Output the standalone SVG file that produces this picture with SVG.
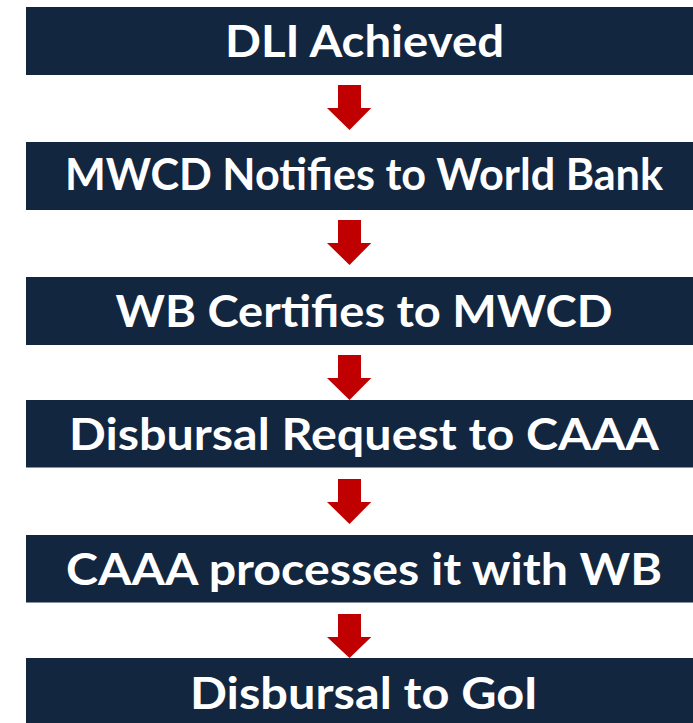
<svg xmlns="http://www.w3.org/2000/svg" width="693" height="723" viewBox="0 0 693 723">
<style>
.box{fill:#13263F}
.lbl{font-family:Lato,"Liberation Sans",sans-serif;font-weight:bold;font-size:43px;fill:#FFFFFF;text-anchor:middle}
.arr{fill:#C00000}
</style>
<rect width="693" height="723" fill="#FFFFFF"/>
<g id="connectors">
<path class="arr" d="M338,85 H361 V108 H371.3 L349.5,130 L327,108 H338 Z"/>
<path class="arr" d="M338,220 H361 V243 H371.3 L349.5,265 L327,243 H338 Z"/>
<path class="arr" d="M338,355 H361 V378 H371.3 L349.5,400 L327,378 H338 Z"/>
<path class="arr" d="M338,479 H361 V502 H371.3 L349.5,524 L327,502 H338 Z"/>
<path class="arr" d="M338,614 H361 V637 H371.3 L349.5,658 L327,637 H338 Z"/>
</g>
<g id="n1"><rect class="box" x="26" y="7" width="667" height="68"/><text class="lbl" x="364.5" y="56.7" textLength="279" lengthAdjust="spacingAndGlyphs">DLI Achieved</text></g>
<g id="n2"><rect class="box" x="26" y="142" width="667" height="68"/><text class="lbl" x="364" y="190" textLength="598" lengthAdjust="spacingAndGlyphs">MWCD Notifies to World Bank</text></g>
<g id="n3"><rect class="box" x="26" y="277" width="667" height="68"/><text class="lbl" x="364" y="327" textLength="497" lengthAdjust="spacingAndGlyphs">WB Certifies to MWCD</text></g>
<g id="n4"><rect class="box" x="26" y="400" width="667" height="67.5"/><text class="lbl" x="364" y="450" textLength="590" lengthAdjust="spacingAndGlyphs">Disbursal Request to CAAA</text></g>
<g id="n5"><rect class="box" x="26" y="535" width="667" height="67.5"/><text class="lbl" x="364" y="585" textLength="596" lengthAdjust="spacingAndGlyphs">CAAA processes it with WB</text></g>
<g id="n6"><rect class="box" x="26" y="658" width="667" height="65"/><text class="lbl" x="364" y="709" textLength="348" lengthAdjust="spacingAndGlyphs">Disbursal to GoI</text></g>
</svg>
